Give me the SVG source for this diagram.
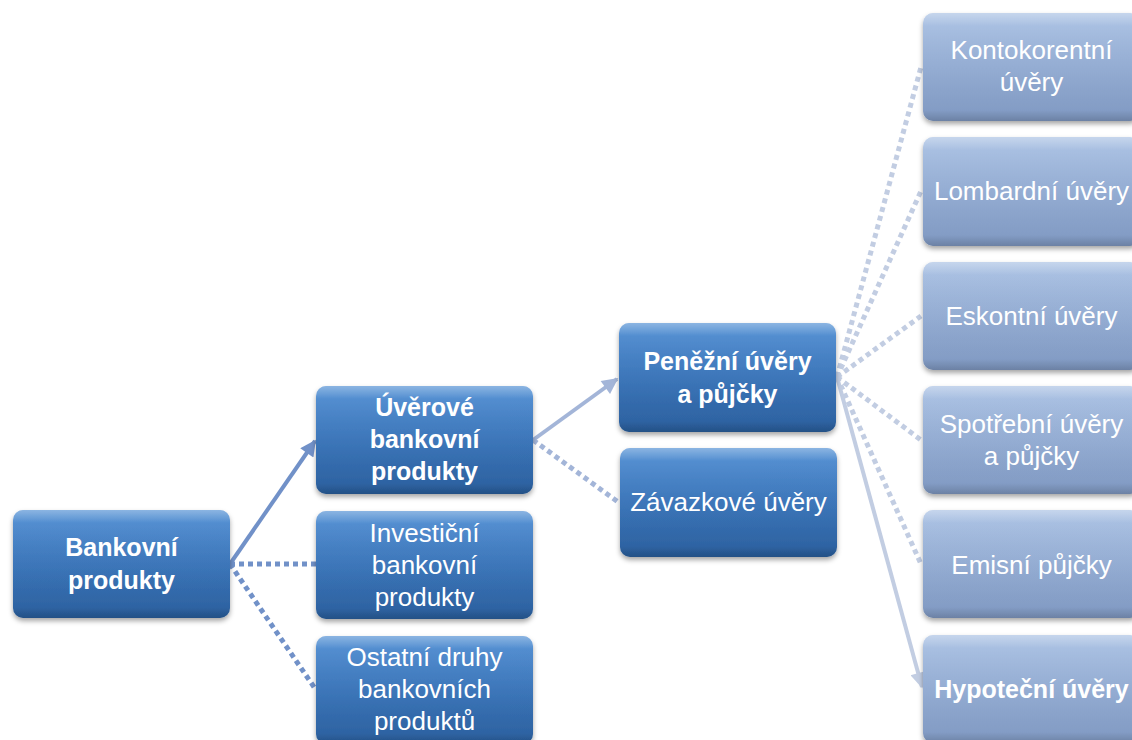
<svg xmlns="http://www.w3.org/2000/svg" width="1132" height="740" viewBox="0 0 1132 740">
<style>
.dark{fill:url(#gDark)}
.light{fill:url(#gLight)}
.gloss{fill:url(#gGloss)}
.box{filter:url(#sh)}
text{font-family:"Liberation Sans",Arial,sans-serif;fill:#fff;text-anchor:middle;font-size:26px}
.b{font-weight:bold;font-size:25px}
.c1{stroke:#7191c8;stroke-width:4;fill:none}
.c2{stroke:#a3b5d8;stroke-width:4;fill:none}
.c3{stroke:#c2cde2;stroke-width:4;fill:none}
.dot{stroke-width:5;stroke-dasharray:5 4}
</style>
<defs>
<linearGradient id="gDark" x1="0" y1="0" x2="0" y2="1">
<stop offset="0" stop-color="#4e8dd3"/>
<stop offset="0.5" stop-color="#3b76bb"/>
<stop offset="1" stop-color="#2b5f9d"/>
</linearGradient>
<linearGradient id="gLight" x1="0" y1="0" x2="0" y2="1">
<stop offset="0" stop-color="#a8c0e3"/>
<stop offset="0.5" stop-color="#95aed5"/>
<stop offset="1" stop-color="#7f98c1"/>
</linearGradient>
<linearGradient id="gGloss" x1="0" y1="0" x2="0" y2="1">
<stop offset="0" stop-color="#fff" stop-opacity="0.35"/>
<stop offset="0.12" stop-color="#fff" stop-opacity="0.05"/>
<stop offset="0.9" stop-color="#000" stop-opacity="0"/>
<stop offset="1" stop-color="#000" stop-opacity="0.15"/>
</linearGradient>
<filter id="sh" x="-10%" y="-10%" width="120%" height="130%">
<feDropShadow dx="0" dy="3" stdDeviation="2.5" flood-color="#000" flood-opacity="0.35"/>
</filter>
<marker id="a1" viewBox="0 0 10 10" refX="9" refY="5" markerWidth="4.5" markerHeight="4" orient="auto"><path d="M0,0 L10,5 L0,10 z" fill="#7191c8"/></marker>
<marker id="a2" viewBox="0 0 10 10" refX="9" refY="5" markerWidth="4.5" markerHeight="4" orient="auto"><path d="M0,0 L10,5 L0,10 z" fill="#a3b5d8"/></marker>
<marker id="a3" viewBox="0 0 10 10" refX="9" refY="5" markerWidth="4.5" markerHeight="4" orient="auto"><path d="M0,0 L10,5 L0,10 z" fill="#c2cde2"/></marker>
</defs>

<g id="connectors">
<line class="c1" x1="230" y1="564" x2="315" y2="441" marker-end="url(#a1)"/>
<line class="c1 dot" x1="230" y1="564" x2="316" y2="564"/>
<line class="c1 dot" x1="230" y1="564" x2="316" y2="690"/>
<line class="c2" x1="533" y1="440" x2="617" y2="379" marker-end="url(#a2)"/>
<line class="c2 dot" x1="533" y1="440" x2="618" y2="502"/>
<line class="c3 dot" x1="837" y1="377" x2="921" y2="67"/>
<line class="c3 dot" x1="837" y1="377" x2="921" y2="191"/>
<line class="c3 dot" x1="837" y1="377" x2="921" y2="316"/>
<line class="c3 dot" x1="837" y1="377" x2="921" y2="440"/>
<line class="c3 dot" x1="837" y1="377" x2="921" y2="564"/>
<line class="c3" x1="837" y1="377" x2="922" y2="687" marker-end="url(#a3)"/>
</g>

<g id="n-bankovni">
<rect class="dark box" x="13" y="510" width="217" height="108" rx="10"/>
<rect class="gloss" x="13" y="510" width="217" height="108" rx="10"/>
<text class="b" x="121.5" y="556">Bankovní</text>
<text class="b" x="121.5" y="589">produkty</text>
</g>

<g id="n-uverove">
<rect class="dark box" x="316" y="386" width="217" height="108" rx="10"/>
<rect class="gloss" x="316" y="386" width="217" height="108" rx="10"/>
<text class="b" x="424.5" y="416">Úvěrové</text>
<text class="b" x="424.5" y="448">bankovní</text>
<text class="b" x="424.5" y="480">produkty</text>
</g>

<g id="n-investicni">
<rect class="dark box" x="316" y="511" width="217" height="108" rx="10"/>
<rect class="gloss" x="316" y="511" width="217" height="108" rx="10"/>
<text x="424.5" y="542">Investiční</text>
<text x="424.5" y="574">bankovní</text>
<text x="424.5" y="606">produkty</text>
</g>

<g id="n-ostatni">
<rect class="dark box" x="316" y="636" width="217" height="108" rx="10"/>
<rect class="gloss" x="316" y="636" width="217" height="108" rx="10"/>
<text x="424.5" y="666">Ostatní druhy</text>
<text x="424.5" y="698">bankovních</text>
<text x="424.5" y="730">produktů</text>
</g>

<g id="n-penezni">
<rect class="dark box" x="619" y="323" width="217" height="109" rx="10"/>
<rect class="gloss" x="619" y="323" width="217" height="109" rx="10"/>
<text class="b" x="727.5" y="370">Peněžní úvěry</text>
<text class="b" x="727.5" y="403">a půjčky</text>
</g>

<g id="n-zavazkove">
<rect class="dark box" x="620" y="448" width="217" height="109" rx="10"/>
<rect class="gloss" x="620" y="448" width="217" height="109" rx="10"/>
<text x="728.5" y="511">Závazkové úvěry</text>
</g>

<g id="n-kontokorentni">
<rect class="light box" x="923" y="13" width="217" height="108" rx="10"/>
<rect class="gloss" x="923" y="13" width="217" height="108" rx="10"/>
<text x="1031.5" y="59">Kontokorentní</text>
<text x="1031.5" y="91">úvěry</text>
</g>

<g id="n-lombardni">
<rect class="light box" x="923" y="137" width="217" height="109" rx="10"/>
<rect class="gloss" x="923" y="137" width="217" height="109" rx="10"/>
<text x="1031.5" y="200">Lombardní úvěry</text>
</g>

<g id="n-eskontni">
<rect class="light box" x="923" y="262" width="217" height="108" rx="10"/>
<rect class="gloss" x="923" y="262" width="217" height="108" rx="10"/>
<text x="1031.5" y="325">Eskontní úvěry</text>
</g>

<g id="n-spotrebni">
<rect class="light box" x="923" y="386" width="217" height="108" rx="10"/>
<rect class="gloss" x="923" y="386" width="217" height="108" rx="10"/>
<text x="1031.5" y="433">Spotřební úvěry</text>
<text x="1031.5" y="465">a půjčky</text>
</g>

<g id="n-emisni">
<rect class="light box" x="923" y="510" width="217" height="108" rx="10"/>
<rect class="gloss" x="923" y="510" width="217" height="108" rx="10"/>
<text x="1031.5" y="574">Emisní půjčky</text>
</g>

<g id="n-hypotecni">
<rect class="light box" x="923" y="635" width="217" height="108" rx="10"/>
<rect class="gloss" x="923" y="635" width="217" height="108" rx="10"/>
<text class="b" x="1031.5" y="698">Hypoteční úvěry</text>
</g>
</svg>
